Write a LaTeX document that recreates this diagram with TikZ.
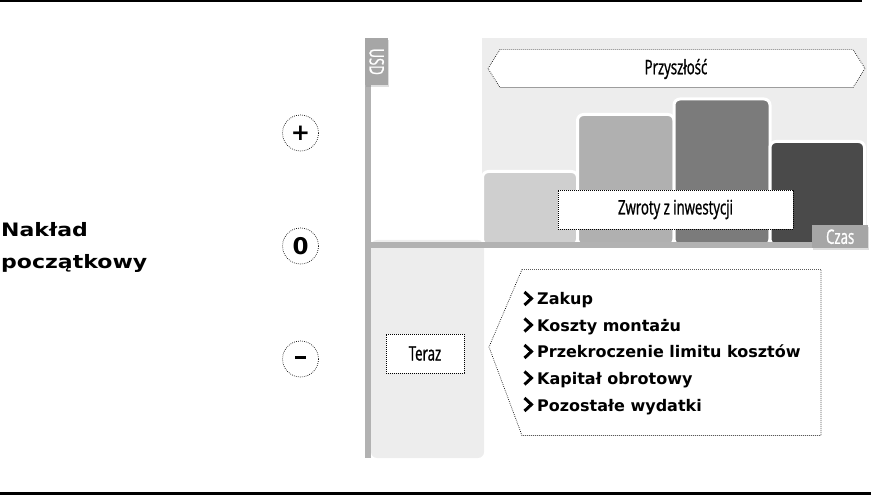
\documentclass[tikz,border=0pt]{standalone}
\usepackage{fontspec}
\setmainfont{Open Sans}
\newfontfamily\headsans[FakeStretch=1.19]{DejaVu Sans Bold}
\newfontfamily\itemsans{DejaVu Sans Bold}
\newfontfamily\condsans[FakeStretch=0.66, FakeBold=1]{Open Sans}
\usetikzlibrary{shadows,calc}
\definecolor{axisgray}{HTML}{B2B2B2}
\definecolor{tabgray}{HTML}{A6A6A6}
\definecolor{panelgray}{HTML}{EDEDED}
\definecolor{barA}{HTML}{CFCFCF}
\definecolor{barB}{HTML}{B0B0B0}
\definecolor{barC}{HTML}{7B7B7B}
\definecolor{barD}{HTML}{4A4A4A}
\tikzset{
  dots/.style={draw=black, line width=0.7pt, dash pattern=on 0.7pt off 1.3pt},
  tab/.style={fill=tabgray, text=white, inner sep=0pt, font=\condsans\fontsize{20}{20}\selectfont,
    drop shadow={opacity=0.25, shadow xshift=1pt, shadow yshift=-2pt}},
  bar/.style={draw=white, line width=3pt, rounded corners=6pt},
  signcircle/.style={circle, dots, minimum size=36pt, inner sep=0pt, font=\itemsans\fontsize{23}{23}\selectfont},
  label/.style={font=\condsans\fontsize{20}{20}\selectfont, text=black},
  item/.style={font=\itemsans\fontsize{16}{16}\selectfont, anchor=base west, inner sep=0pt},
  heading/.style={font=\headsans\fontsize{18.5}{18.5}\selectfont, anchor=base west, inner sep=0pt},
  chevron/.style={line width=3pt, line join=miter, line cap=butt},
}
\begin{document}
\begin{tikzpicture}[x=1pt, y=-1pt]
  \useasboundingbox (0,0) rectangle (871,497);
  % frame rules
  \draw[line width=1.5pt] (0,1) -- (862,1);
  \draw[line width=3pt] (0,493.5) -- (871,493.5);

  % shaded panels: future (top right) and present (bottom left)
  \fill[panelgray] (482,38) rectangle (867,245);
  \fill[panelgray, rounded corners=6pt] (371,240) -- (484,240) -- (484,458) -- (371,458) -- cycle;

  % return bars
  \path[bar, fill=barA] (482.5,245) -- (482.5,171.5) -- (577.5,171.5) -- (577.5,245) -- cycle;
  \path[bar, fill=barB] (577.5,245) -- (577.5,114.5) -- (674,114.5) -- (674,245) -- cycle;
  \path[bar, fill=barC] (674,245) -- (674,99) -- (770,99) -- (770,245) -- cycle;
  \path[bar, fill=barD] (770,245) -- (770,141.5) -- (864.5,141.5) -- (864.5,245) -- cycle;

  % axes
  \fill[axisgray] (365,85) rectangle (371,458);
  \fill[axisgray] (365,242.5) rectangle (840,248);
  \node[tab, minimum width=23pt, minimum height=47pt, anchor=north west] (usd) at (365,38)
    {\rotatebox{-90}{USD}};
  \node[tab, minimum width=56pt, minimum height=23pt, anchor=north west] (czas) at (812,225) {Czas};

  % future banner
  \draw[dots, fill=white] (488,68.5) -- (500,49.5) -- (853,49.5) -- (865,68.5) -- (853,87.5) -- (500,87.5) -- cycle;
  \node[label] (future) at (676,69) {Przyszłość};

  % returns label
  \node[label, dots, fill=white, minimum width=235pt, minimum height=39pt, inner sep=0pt] (returns) at (675.5,209.5) {Zwroty z inwestycji};

  % present label
  \node[label, dots, fill=white, minimum width=78pt, minimum height=39pt, inner sep=0pt] (now) at (425,353.5) {Teraz};

  % cost list callout
  \draw[dots] (522,269.5) -- (821,269.5) -- (821,435.5) -- (522,435.5) -- (489,347) -- cycle;
  \node[item] (c1) at (537,305) {Zakup};
  \node[item] (c2) at (537,331.5) {Koszty montażu};
  \node[item] (c3) at (537,358) {Przekroczenie limitu kosztów};
  \node[item] (c4) at (537,384.5) {Kapitał obrotowy};
  \node[item] (c5) at (537,411) {Pozostałe wydatki};
  \foreach \c in {c1,c2,c3,c4,c5}
    \draw[chevron] ($(\c.base west)+(-12.5,-13)$) -- ++(7,6.5) -- ++(-7,6.5);

  % value scale markers
  \node[signcircle] (plus) at (300.5,133) {+};
  \node[signcircle] (zero) at (300.5,246) {0};
  \node[signcircle] (minus) at (300.5,359) {\rule[0.22ex]{11pt}{3.5pt}};

  % initial outlay caption
  \node[heading] (outlay1) at (1,237) {Nakład};
  \node[heading] (outlay2) at (1,268.5) {początkowy};
\end{tikzpicture}
\end{document}
